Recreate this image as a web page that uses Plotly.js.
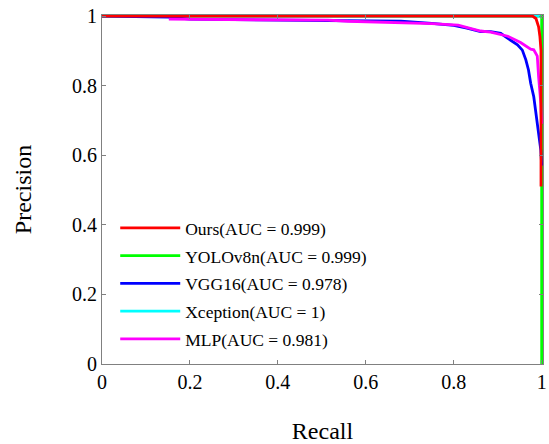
<!DOCTYPE html>
<html>
<head>
<meta charset="utf-8">
<script src="https://cdn.plot.ly/plotly-3.0.1.min.js"></script>
<style>html,body{margin:0;padding:0;background:#fff;}#chart{width:549px;height:444px;}</style>
</head>
<body>
<div id="chart"></div>
<script>
// Series names (legend order)
const names = ['Ours(AUC = 0.999)', 'YOLOv8n(AUC = 0.999)', 'VGG16(AUC = 0.978)', 'Xception(AUC = 1)', 'MLP(AUC = 0.981)'];

// Ours (red)
const oursRecall    = [0, 0.979, 0.987, 0.993, 0.996, 0.9985, 0.9985];
const oursPrecision = [1, 1, 0.993, 0.969, 0.941, 0.90, 0.51];

// YOLOv8n (green)
const yoloRecall    = [0, 1, 1];
const yoloPrecision = [1, 1, 0];

// VGG16 (blue)
const vggRecall    = [0, 0.15, 0.2, 0.45, 0.52, 0.566, 0.6, 0.68, 0.75, 0.8, 0.83, 0.861, 0.884, 0.907, 0.918, 0.93, 0.945, 0.956, 0.964, 0.97, 0.975, 0.982, 0.986, 0.99, 0.993, 0.998, 1.0];
const vggPrecision = [1, 0.997, 0.991, 0.988, 0.988, 0.988, 0.988, 0.985, 0.979, 0.973, 0.965, 0.955, 0.955, 0.95, 0.94, 0.93, 0.917, 0.902, 0.874, 0.845, 0.807, 0.768, 0.73, 0.693, 0.653, 0.615, 0.57];

// Xception (cyan)
const xcpRecall    = [0, 0.997];
const xcpPrecision = [1, 1];

// MLP (magenta)
const mlpRecall    = [0.152, 0.3, 0.45, 0.514, 0.56, 0.634, 0.68, 0.75, 0.81, 0.84, 0.861, 0.884, 0.907, 0.923, 0.952, 0.975, 0.982, 0.99, 0.993, 0.996, 0.998, 1.0];
const mlpPrecision = [0.991, 0.99, 0.988, 0.988, 0.985, 0.983, 0.98, 0.978, 0.974, 0.965, 0.957, 0.954, 0.948, 0.942, 0.924, 0.905, 0.903, 0.885, 0.826, 0.79, 0.75, 0.69];

// Tick values / labels
const tickVals = [0, 0.2, 0.4, 0.6, 0.8, 1];
const tickText = ['0', '0.2', '0.4', '0.6', '0.8', '1'];

const LW = 2.8;
function tr(x, y, name, color, rank) {
  return {x: x, y: y, name: name, type: 'scatter', mode: 'lines',
    line: {color: color, width: LW}, legendgroup: 'g' + rank, legendrank: rank, hoverinfo: 'skip'};
}

const data = [
  tr(yoloRecall, yoloPrecision, names[1], '#00ff00', 2),
  tr(xcpRecall, xcpPrecision, names[3], '#00ffff', 4),
  tr(vggRecall, vggPrecision, names[2], '#0000ff', 3),
  tr(mlpRecall, mlpPrecision, names[4], '#ff00ff', 5),
  tr(oursRecall, oursPrecision, names[0], '#ff0000', 1)
];

const fontFam = 'Liberation Serif';
const axisCommon = {
  tickvals: tickVals, ticktext: tickText,
  ticks: 'inside', ticklen: 4, tickwidth: 1, tickcolor: '#808080',
  showline: true, linecolor: '#808080', linewidth: 1, mirror: 'ticks',
  showgrid: false, zeroline: false,
  tickfont: {family: fontFam, size: 20, color: '#000'}
};

const layout = {
  width: 549, height: 444,
  font: {family: fontFam, size: 18, color: '#000'},
  margin: {l: 102, r: 5.7, t: 14.65, b: 79.7},
  paper_bgcolor: '#fff', plot_bgcolor: '#fff',
  showlegend: true,
  xaxis: Object.assign({}, axisCommon, {
    range: [0, 1.003],
    title: {text: 'Recall', font: {family: fontFam, size: 24, color: '#000'}, standoff: 30}
  }),
  yaxis: Object.assign({}, axisCommon, {
    range: [0, 1.003],
    title: {text: 'Precision', font: {family: fontFam, size: 24, color: '#000'}, standoff: 33}
  }),
  legend: {
    x: 0.03, y: 0.441, xanchor: 'left', yanchor: 'top',
    bgcolor: 'rgba(0,0,0,0)', borderwidth: 0,
    font: {family: fontFam, size: 17.5, color: '#000'},
    traceorder: 'grouped', tracegroupgap: 2, itemwidth: 60
  }
};

Plotly.newPlot('chart', data, layout, {displayModeBar: false, staticPlot: true});
</script>
</body>
</html>
